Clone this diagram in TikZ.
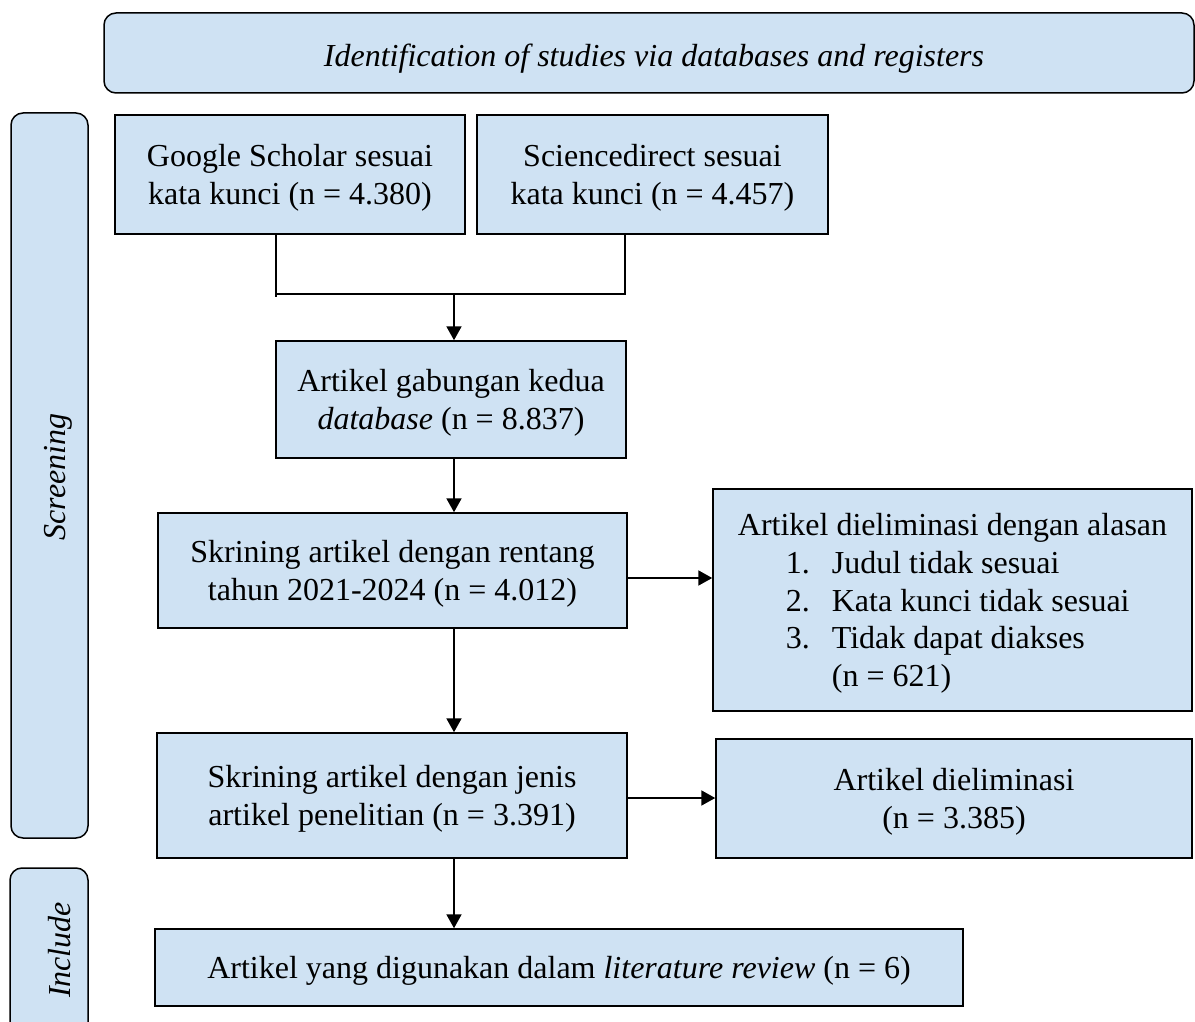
\documentclass[tikz,border=0pt]{standalone}
\usepackage{fontspec}
\setmainfont{Liberation Serif}
\usetikzlibrary{arrows.meta}
\definecolor{boxblue}{RGB}{207,226,243}
\tikzset{
  stage/.style={draw, fill=boxblue, line width=0.75pt, inner sep=0pt,
    align=center, font=\fontsize{16}{18.9}\selectfont, text depth=-0.5pt},
  phase/.style={draw, fill=boxblue, line width=0.75pt, rounded corners=6pt},
  phaselabel/.style={font=\fontsize{16}{18.9}\selectfont\itshape, inner sep=0pt},
  arr/.style={-{Triangle[length=7pt,width=7.5pt]}, line width=1pt},
  joinline/.style={line width=0.65pt},
}
\begin{document}
\begin{tikzpicture}[x=0.5pt,y=-0.5pt]
  \useasboundingbox (0,0) rectangle (1195,1022);

  % phase bands
  \draw[phase] (104,13) rectangle (1194,93);
  \draw[phase] (11,113) rectangle (88,838);
  \draw[phase] (10,868) rectangle (88,1040);
  \node[phaselabel] (lid) at (654,59) {Identification of studies via databases and registers};
  \node[phaselabel, rotate=90] (lscr) at (58,477) {Screening};
  \node[phaselabel, rotate=90] (linc) at (60,950) {Include};

  % boxes
  \node[stage, minimum width=175pt, minimum height=59.5pt] (gs) at (290,174.5)
    {Google Scholar sesuai\\kata kunci (n = 4.380)};
  \node[stage, minimum width=175.5pt, minimum height=59.5pt] (sd) at (652.5,174.5)
    {Sciencedirect sesuai\\kata kunci (n = 4.457)};
  \node[stage, minimum width=175pt, minimum height=58.5pt] (comb) at (451,399.5)
    {Artikel gabungan kedua\\\textit{database} (n = 8.837)};
  \node[stage, minimum width=234.5pt, minimum height=57.5pt] (scr1) at (392.5,570.5)
    {Skrining artikel dengan rentang\\tahun 2021-2024 (n = 4.012)};
  \node[stage, align=left, minimum width=239.5pt, minimum height=111pt] (elim1) at (952.5,600)
    {Artikel dieliminasi dengan alasan\\
     \hspace*{24pt}\makebox[23pt][l]{1.}Judul tidak sesuai\\
     \hspace*{24pt}\makebox[23pt][l]{2.}Kata kunci tidak sesuai\\
     \hspace*{24pt}\makebox[23pt][l]{3.}Tidak dapat diakses\\
     \hspace*{47pt}(n = 621)};
  \node[stage, minimum width=235pt, minimum height=62.5pt] (scr2) at (392,795.5)
    {Skrining artikel dengan jenis\\artikel penelitian (n = 3.391)};
  \node[stage, minimum width=238pt, minimum height=59.5pt] (elim2) at (954,798.5)
    {Artikel dieliminasi\\(n = 3.385)};
  \node[stage, minimum width=404pt, minimum height=38.5pt] (fin) at (559,967.5)
    {Artikel yang digunakan dalam \textit{literature review} (n = 6)};

  % connectors
  \coordinate (jl) at (276,294);
  \coordinate (jr) at (625,294);
  \coordinate (spine) at (454,294);
  \draw[joinline] (gs.south -| jl) -- ([yshift=-1.5pt]jl);
  \draw[joinline] (jl) -- (jr) -- (sd.south -| jr);
  \draw[arr] (spine) -- (comb.north -| spine);

  \foreach \from/\to in {comb/scr1,scr1/scr2,scr2/fin}
    \draw[arr] (\from.south -| spine) -- (\to.north -| spine);

  \coordinate (h1) at (0,578);
  \coordinate (h2) at (0,798);
  \draw[arr] (scr1.east |- h1) -- (elim1.west |- h1);
  \draw[arr] (scr2.east |- h2) -- (elim2.west |- h2);
\end{tikzpicture}
\end{document}
